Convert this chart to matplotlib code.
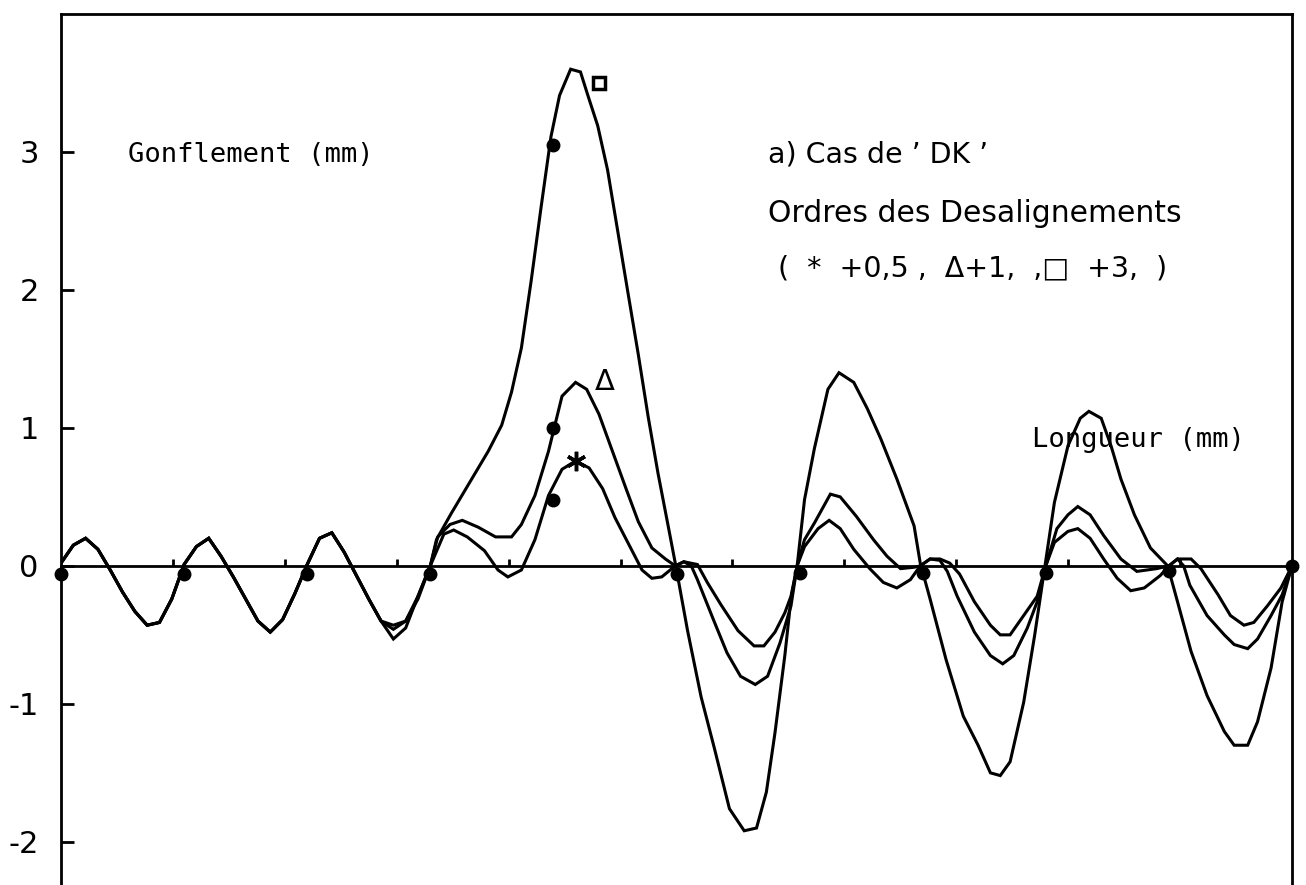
import matplotlib
matplotlib.use("Agg")
import matplotlib.pyplot as plt
import numpy as np

plt.rcParams['axes.unicode_minus'] = False

# ---- data (Longueur in marker units, Gonflement in mm) ----
x_common = [0.0, 0.1, 0.2, 0.3, 0.4, 0.5, 0.6, 0.7, 0.8, 0.9, 1.0,
            1.1, 1.2, 1.3, 1.4, 1.5, 1.6, 1.7, 1.8, 1.9, 2.0,
            2.1, 2.2, 2.3, 2.4, 2.5, 2.6]
y_common = [0.02, 0.15, 0.20, 0.12, -0.03, -0.19, -0.33, -0.43, -0.41, -0.24, 0.01,
            0.14, 0.20, 0.07, -0.08, -0.24, -0.40, -0.48, -0.39, -0.20, 0.01,
            0.20, 0.24, 0.10, -0.07, -0.24, -0.40]

x_small_tail = [2.7, 2.8, 2.9, 3.0, 3.11, 3.19, 3.30, 3.44, 3.55, 3.63, 3.74, 3.85, 3.96,
                4.07, 4.18, 4.29, 4.40, 4.50, 4.61, 4.72, 4.80, 4.88, 4.99, 5.06, 5.17,
                5.25, 5.36, 5.50, 5.63, 5.71, 5.80, 5.88, 5.93, 5.98, 6.04, 6.15, 6.24,
                6.33, 6.44, 6.57, 6.68, 6.79, 6.90, 6.98, 7.06, 7.14, 7.22, 7.30, 7.42,
                7.55, 7.63, 7.71, 7.82, 7.93, 8.0, 8.07, 8.18, 8.26, 8.36, 8.47, 8.58,
                8.69, 8.80, 8.93, 9.0, 9.07, 9.18, 9.26, 9.40, 9.50, 9.61, 9.69, 9.80,
                9.91, 10.0]
y_small_tail = [-0.43, -0.40, -0.24, 0.0, 0.23, 0.26, 0.21, 0.11, -0.03, -0.08, -0.03, 0.19, 0.51,
                0.70, 0.76, 0.71, 0.56, 0.35, 0.16, -0.03, -0.09, -0.08, 0.0, 0.03, 0.01,
                -0.12, -0.28, -0.47, -0.58, -0.58, -0.48, -0.34, -0.22, 0.0, 0.14, 0.27, 0.33,
                0.27, 0.12, -0.02, -0.12, -0.16, -0.10, 0.0, 0.05, 0.05, 0.02, -0.06, -0.26,
                -0.43, -0.50, -0.50, -0.36, -0.22, 0.0, 0.17, 0.25, 0.27, 0.20, 0.05, -0.09,
                -0.18, -0.16, -0.07, 0.0, 0.05, 0.05, -0.02, -0.21, -0.36, -0.43, -0.41, -0.29,
                -0.16, 0.0]

x_medium_tail = [2.7, 2.8, 2.9, 3.0, 3.06, 3.16, 3.26, 3.39, 3.53, 3.66, 3.74, 3.85, 3.96,
                 4.07, 4.18, 4.27, 4.37, 4.48, 4.59, 4.69, 4.80, 4.91, 4.99, 5.06, 5.12,
                 5.17, 5.30, 5.41, 5.52, 5.64, 5.74, 5.84, 5.93, 5.98, 6.04, 6.12, 6.25,
                 6.33, 6.46, 6.60, 6.71, 6.82, 6.93, 6.98, 7.06, 7.14, 7.20, 7.28, 7.42,
                 7.55, 7.65, 7.74, 7.85, 7.93, 8.0, 8.09, 8.18, 8.26, 8.36, 8.47, 8.61,
                 8.74, 8.90, 9.0, 9.07, 9.12, 9.17, 9.31, 9.45, 9.53, 9.64, 9.72, 9.83,
                 9.92, 10.0]
y_medium_tail = [-0.46, -0.40, -0.22, 0.0, 0.21, 0.30, 0.33, 0.28, 0.21, 0.21, 0.30, 0.51, 0.83,
                 1.23, 1.33, 1.28, 1.10, 0.83, 0.56, 0.32, 0.13, 0.05, 0.0, 0.03, 0.0,
                 -0.10, -0.39, -0.63, -0.80, -0.86, -0.80, -0.56, -0.29, 0.0, 0.19, 0.31, 0.52,
                 0.50, 0.36, 0.19, 0.07, -0.02, -0.01, 0.0, 0.05, 0.04, -0.04, -0.22, -0.48,
                 -0.65, -0.71, -0.65, -0.45, -0.26, 0.0, 0.27, 0.37, 0.43, 0.37, 0.22, 0.05,
                 -0.04, -0.02, 0.0, 0.05, 0.0, -0.14, -0.36, -0.50, -0.57, -0.60, -0.53, -0.36,
                 -0.21, 0.0]

x_big_tail = [2.7, 2.8, 2.9, 3.0, 3.05, 3.17, 3.33, 3.47, 3.58, 3.66, 3.74, 3.82, 3.90, 3.98,
              4.05, 4.14, 4.22, 4.28, 4.36, 4.44, 4.52, 4.60, 4.69, 4.77, 4.85, 4.93, 4.99,
              5.09, 5.20, 5.31, 5.43, 5.55, 5.65, 5.73, 5.80, 5.88, 5.93, 5.98, 6.04, 6.12,
              6.23, 6.32, 6.44, 6.55, 6.66, 6.79, 6.93, 6.98, 7.06, 7.19, 7.33, 7.45, 7.55,
              7.63, 7.71, 7.82, 7.91, 7.99, 8.07, 8.18, 8.28, 8.35, 8.45, 8.53, 8.61, 8.72,
              8.85, 8.99, 9.07, 9.18, 9.31, 9.45, 9.53, 9.64, 9.72, 9.83, 9.92, 10.0]
y_big_tail = [-0.53, -0.45, -0.22, 0.0, 0.19, 0.38, 0.62, 0.83, 1.02, 1.26, 1.58, 2.07, 2.60, 3.11,
              3.41, 3.60, 3.58, 3.41, 3.19, 2.87, 2.44, 2.01, 1.53, 1.08, 0.67, 0.30, 0.02,
              -0.47, -0.95, -1.33, -1.76, -1.92, -1.90, -1.64, -1.21, -0.65, -0.24, 0.0, 0.48, 0.85,
              1.28, 1.40, 1.33, 1.14, 0.92, 0.63, 0.29, 0.02, -0.24, -0.68, -1.09, -1.30, -1.50,
              -1.52, -1.42, -0.99, -0.50, -0.02, 0.46, 0.87, 1.07, 1.12, 1.07, 0.87, 0.63, 0.37,
              0.13, 0.0, -0.26, -0.62, -0.94, -1.20, -1.30, -1.30, -1.13, -0.74, -0.26, 0.0]

# circle markers on the axis and on the curves
axis_marker_x = [0, 1, 2, 3, 5, 6, 7, 8, 9, 10]
axis_marker_y = [-0.06, -0.06, -0.06, -0.06, -0.06, -0.05, -0.05, -0.05, -0.04, 0.0]
peak_marker_x = [4.0, 4.0, 4.0]
peak_marker_y = [0.48, 1.0, 3.05]

y_ticks = [-2, -1, 0, 1, 2, 3]
y_tick_labels = ['-2', '-1', '0', '1', '2', '3']

# ---- figure ----
W, H = 1306, 885
fig = plt.figure(figsize=(W / 100, H / 100), dpi=100)
ax = fig.add_axes([61 / W, 1 - 897 / H, (1292 - 61) / W, 883 / H])
ax.set_xlim(0, 10)
ax.set_ylim(-2.4, 4.0)

for s in ['left', 'top', 'right']:
    ax.spines[s].set_linewidth(2.0)
ax.spines['bottom'].set_position(('data', 0))
ax.spines['bottom'].set_linewidth(2.0)

ax.set_xticks(np.linspace(0, 10, 12)[1:-1])
ax.tick_params(axis='x', direction='in', length=5, width=2, labelbottom=False)
ax.set_yticks(y_ticks)
ax.set_yticklabels(y_tick_labels)
ax.tick_params(axis='y', direction='in', length=9, width=2, labelsize=22, pad=16)

x_small = x_common + x_small_tail
y_small = y_common + y_small_tail
x_medium = x_common + x_medium_tail
y_medium = y_common + y_medium_tail
x_big = x_common + x_big_tail
y_big = y_common + y_big_tail

for xs, ys in [(x_small, y_small), (x_medium, y_medium), (x_big, y_big)]:
    ax.plot(xs, ys, color='black', lw=2.2, solid_joinstyle='miter')

ax.plot(axis_marker_x, axis_marker_y, 'o', color='black', ms=9, clip_on=False)
ax.plot(peak_marker_x, peak_marker_y, 'o', color='black', ms=9)

# curve symbols next to each peak
i_s = int(np.argmax(y_small))
ax.plot(x_small[i_s], y_small[i_s], marker=(6, 2, 0), color='black', ms=14, mew=2.5)
i_m = int(np.argmax(y_medium))
ax.text(x_medium[i_m] + 0.24, y_medium[i_m], 'Δ', fontsize=21, ha='center', va='center',
        family='DejaVu Sans')
i_b = int(np.argmax(y_big))
ax.plot(x_big[i_b] + 0.23, y_big[i_b] - 0.1, marker='s', mfc='white', mec='black', ms=9, mew=2.5)

# texts
mono = 'DejaVu Sans Mono'
fig.text(128 / W, 1 - 155 / H, 'Gonflement (mm)', family=mono, fontsize=19.5, va='center', ha='left')
fig.text(1032 / W, 1 - 440 / H, 'Longueur (mm)', family=mono, fontsize=19.5, va='center', ha='left')
fig.text(768 / W, 1 - 155 / H, "a) Cas de ’ DK ’", family='DejaVu Sans', fontsize=20.5,
         va='center', ha='left')
fig.text(768 / W, 1 - 213 / H, 'Ordres des Desalignements', family='DejaVu Sans', fontsize=21.5,
         va='center', ha='left')
fig.text(778 / W, 1 - 268 / H, '(  *  +0,5 ,  Δ+1,  ,□  +3,  )', family='DejaVu Sans',
         fontsize=20.5, va='center', ha='left')

fig.savefig('out.png', dpi=100)
